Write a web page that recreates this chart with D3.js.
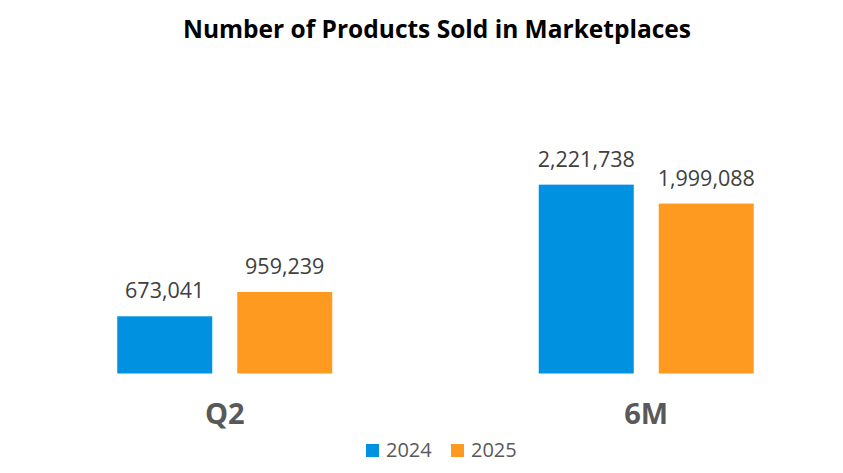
<!DOCTYPE html>
<html lang="en">
<head>
<meta charset="utf-8">
<title>Number of Products Sold in Marketplaces</title>
<script src="https://cdn.jsdelivr.net/npm/d3@7"></script>
<style>
  body { margin: 0; background: #fff; }
  svg text { font-family: "Open Sans", "Noto Sans", sans-serif; }
</style>
</head>
<body>
<script>
// chart data
var categories = ["Q2", "6M"];
var years      = ["2024", "2025"];
var sold2024   = [673041, 2221738];
var sold2025   = [959239, 1999088];
var colors     = ["#0091E1", "#FF9A21"];

var width = 843, height = 473;

var rows = categories.map(function(c, i){
    return { cat: c, values: [sold2024[i], sold2025[i]] };
});

var svg = d3.select("body").append("svg")
    .attr("width", width)
    .attr("height", height);

svg.append("text")
    .attr("x", 437)
    .attr("y", 38)
    .attr("text-anchor", "middle")
    .style("font-size", "24.5px")
    .style("font-weight", "bold")
    .attr("fill", "#000")
    .text("Number of Products Sold in Marketplaces");

var x0 = d3.scaleBand().domain(categories).range([14, 857]).padding(0);
var x1 = d3.scaleBand().domain(years)
    .range([x0.bandwidth() / 2 - 107.5, x0.bandwidth() / 2 + 107.5])
    .paddingInner(0.2083);
var y = d3.scaleLinear().domain([0, 2500000]).range([373.5, 161]);

var fmt = d3.format(",");

var groups = svg.selectAll("g.cat")
    .data(rows)
    .enter()
    .append("g")
    .attr("class", "cat")
    .attr("transform", function(d){ return "translate(" + x0(d.cat) + ",0)"; });

var bars = groups.selectAll("g.bar")
    .data(function(d){ return d.values.map(function(v, i){ return { year: years[i], value: v, i: i }; }); })
    .enter()
    .append("g")
    .attr("class", "bar");

bars.append("rect")
    .attr("x", function(d){ return x1(d.year); })
    .attr("y", function(d){ return y(d.value); })
    .attr("width", x1.bandwidth())
    .attr("height", function(d){ return y(0) - y(d.value); })
    .attr("fill", function(d){ return colors[d.i]; });

bars.append("text")
    .attr("x", function(d){ return x1(d.year) + x1.bandwidth() / 2; })
    .attr("y", function(d){ return y(d.value) - 18; })
    .attr("text-anchor", "middle")
    .style("font-size", "21.5px")
    .attr("fill", "#404040")
    .text(function(d){ return fmt(d.value); });

groups.append("text")
    .attr("x", x0.bandwidth() / 2)
    .attr("y", 424)
    .attr("text-anchor", "middle")
    .style("font-size", "29px")
    .style("font-weight", "bold")
    .attr("fill", "#595959")
    .text(function(d){ return d.cat; });

// legend
var legend = svg.selectAll("g.legend")
    .data(years)
    .enter()
    .append("g")
    .attr("class", "legend")
    .attr("transform", function(d, i){ return "translate(" + (366 + i * 85) + ",0)"; });

legend.append("rect")
    .attr("x", 0)
    .attr("y", 444)
    .attr("width", 13)
    .attr("height", 13)
    .attr("fill", function(d, i){ return colors[i]; });

legend.append("text")
    .attr("x", 20)
    .attr("y", 457)
    .style("font-size", "20px")
    .attr("fill", "#595959")
    .text(function(d){ return d; });
</script>
</body>
</html>
